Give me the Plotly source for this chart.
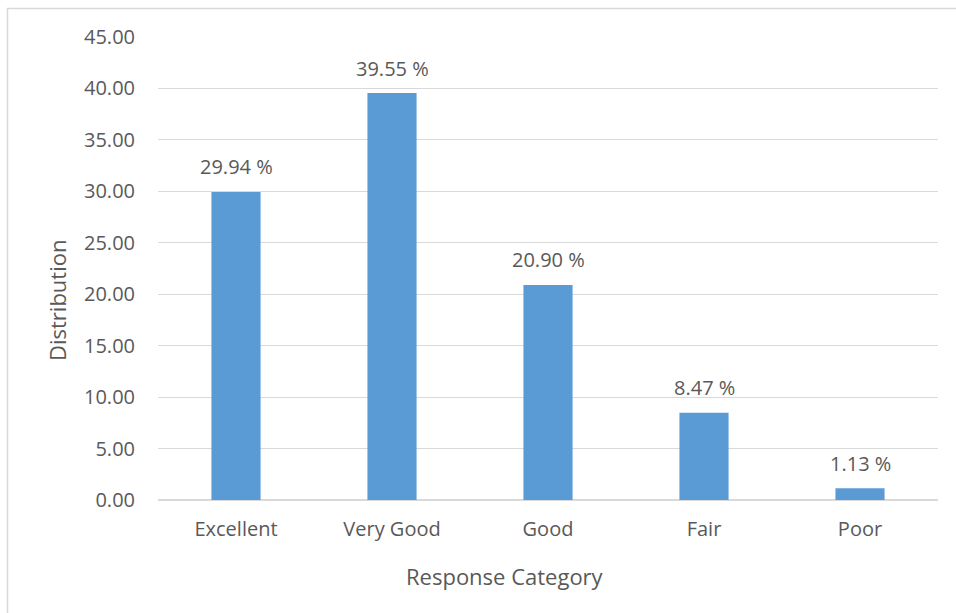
import plotly.graph_objects as go

categories = ["Excellent", "Very Good", "Good", "Fair", "Poor"]
values = [29.94, 39.55, 20.90, 8.47, 1.13]
y_ticks = [0, 5, 10, 15, 20, 25, 30, 35, 40, 45]

W, H = 956, 613
L, R, T, B = 158, 18, 37, 113
FONT = "Open Sans"
TXT = "#595959"
GRID = "#d9d9d9"

fig = go.Figure(go.Bar(
    x=categories, y=values,
    marker=dict(color="#5b9bd5", line=dict(width=0)),
    width=0.315,
    hoverinfo="skip",
))

# value labels above each bar
for c, v in zip(categories, values):
    fig.add_annotation(x=c, y=v, text=f"{v:.2f} %", showarrow=False,
                       yanchor="middle", yshift=25,
                       font=dict(family=FONT, size=20, color=TXT))

pw = W - L - R
ph = H - T - B
# axis titles
fig.add_annotation(xref="paper", yref="paper",
                   x=(505 - L) / pw, y=(H - B - 576) / ph,
                   text="Response Category", showarrow=False,
                   xanchor="center", yanchor="middle",
                   font=dict(family=FONT, size=22, color=TXT))
fig.add_annotation(xref="paper", yref="paper",
                   x=(57 - L) / pw, y=(H - B - 300) / ph,
                   text="Distribution", showarrow=False, textangle=-90,
                   xanchor="center", yanchor="middle",
                   font=dict(family=FONT, size=22, color=TXT))

# chart frame
fig.add_shape(type="rect", xref="paper", yref="paper",
              x0=(7.5 - L) / pw, x1=(1100 - L) / pw,
              y0=(H - B - 800) / ph, y1=(H - B - 8.5) / ph,
              line=dict(color="#d9d9d9", width=1.5), fillcolor="rgba(0,0,0,0)",
              layer="below")

fig.update_layout(
    width=W, height=H,
    margin=dict(l=L, r=R, t=T, b=B, pad=0),
    paper_bgcolor="white", plot_bgcolor="white",
    showlegend=False,
    font=dict(family=FONT, color=TXT),
    xaxis=dict(showgrid=False, showline=False, zeroline=False,
               tickfont=dict(family=FONT, size=20, color=TXT),
               ticklabelstandoff=15, fixedrange=True),
    yaxis=dict(range=[0, 45], tickvals=y_ticks,
               ticktext=[f"{t:.2f}" for t in y_ticks],
               showgrid=True, gridcolor=GRID, gridwidth=1,
               zeroline=True, zerolinecolor=GRID, zerolinewidth=1.5,
               showline=False,
               tickfont=dict(family=FONT, size=20, color=TXT),
               ticklabelstandoff=22, fixedrange=True),
)

fig.write_html("out.html")
